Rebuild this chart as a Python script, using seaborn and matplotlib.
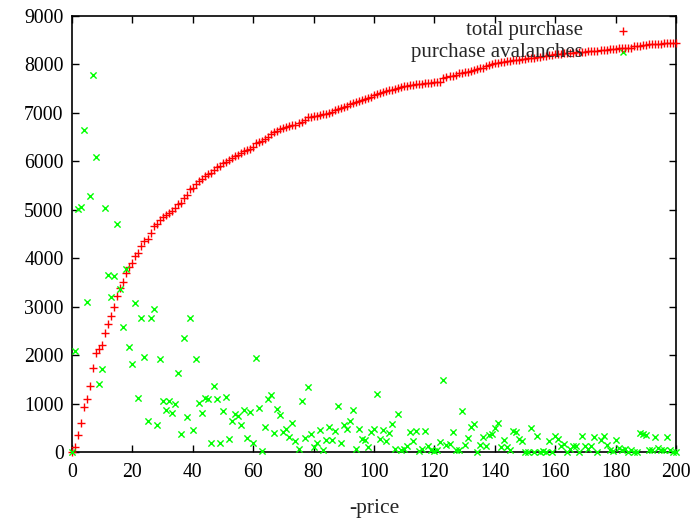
import matplotlib
matplotlib.use("Agg")
import matplotlib.pyplot as plt
import seaborn as sns
import pandas as pd

# ---- data ----
price = list(range(0, 201))

total_purchase = [
    0, 100, 350, 600, 935, 1095, 1355, 1740, 2050, 2120,
    2200, 2455, 2650, 2810, 2985, 3220, 3380, 3515, 3700, 3820,
    3910, 4050, 4110, 4260, 4360, 4390, 4520, 4665, 4700, 4795,
    4860, 4885, 4930, 4975, 5030, 5120, 5140, 5250, 5300, 5425,
    5445, 5540, 5590, 5630, 5690, 5740, 5760, 5820, 5875, 5905,
    5960, 5990, 6030, 6070, 6110, 6140, 6170, 6205, 6230, 6260,
    6300, 6370, 6400, 6430, 6455, 6500, 6560, 6600, 6630, 6660,
    6690, 6710, 6730, 6745, 6760, 6790, 6810, 6850, 6905, 6920,
    6930, 6940, 6955, 6970, 6985, 7005, 7020, 7050, 7075, 7095,
    7120, 7150, 7185, 7210, 7230, 7250, 7270, 7285, 7300, 7320,
    7360, 7400, 7420, 7435, 7450, 7465, 7480, 7500, 7520, 7540,
    7550, 7560, 7570, 7580, 7590, 7598, 7605, 7610, 7615, 7620,
    7628, 7635, 7645, 7720, 7740, 7760, 7768, 7790, 7815, 7830,
    7840, 7850, 7870, 7890, 7905, 7920, 7935, 7960, 7985, 8005,
    8020, 8035, 8045, 8055, 8065, 8075, 8085, 8093, 8100, 8110,
    8118, 8127, 8135, 8142, 8150, 8160, 8170, 8180, 8195, 8205,
    8210, 8215, 8222, 8228, 8233, 8240, 8245, 8250, 8253, 8257,
    8262, 8268, 8275, 8280, 8285, 8292, 8300, 8308, 8315, 8320,
    8326, 8330, 8333, 8336, 8340, 8345, 8375, 8382, 8390, 8398,
    8405, 8412, 8418, 8422, 8427, 8432, 8436, 8440, 8444, 8448,
    8452,
]

purchase_avalanches = [
    0, 2090, 5010, 5050, 6640, 3090, 5280, 7780, 6080, 1395,
    1715, 5030, 3655, 3200, 3635, 4700, 3365, 2575, 3785, 2175,
    1810, 3075, 1115, 2775, 1955, 650, 2775, 2950, 550, 1915,
    1055, 875, 1055, 810, 990, 1630, 370, 2355, 715, 2775,
    455, 1915, 1010, 800, 1115, 1095, 190, 1355, 1095, 190,
    846, 1128, 268, 647, 784, 750, 550, 867, 289, 832,
    186, 1934, 908, 14, 523, 1088, 1170, 385, 888, 771,
    413, 482, 303, 592, 227, 69, 1053, 289, 1335, 372,
    110, 186, 454, 34, 248, 509, 248, 427, 950, 186,
    564, 468, 647, 867, 69, 482, 268, 241, 110, 413,
    468, 1191, 268, 447, 227, 392, 571, 62, 791, 34,
    62, 124, 406, 227, 427, 14, 55, 427, 131, 34,
    14, 34, 213, 1493, 145, 172, 406, 34, 48, 846,
    145, 289, 523, 571, 0, 145, 310, 131, 351, 372,
    489, 592, 110, 248, 110, 34, 427, 406, 268, 227,
    0, 0, 489, 0, 330, 0, 28, 0, 227, 0,
    330, 268, 131, 158, 0, 60, 117, 117, 0, 330,
    117, 55, 117, 310, 0, 248, 330, 145, 41, 20,
    248, 82, 41, 55, 0, 41, 0, 0, 400, 372,
    351, 41, 41, 303, 82, 41, 41, 303, 41, 0,
    0,
]

x_ticks = list(range(0, 201, 20))
y_ticks = list(range(0, 9001, 1000))
series_labels = ["total purchase", "purchase avalanches"]
x_label = "-price"

# ---- style ----
sns.set_style("ticks")
plt.rcParams["font.family"] = ["Liberation Serif", "DejaVu Serif"]
FS_TICK = 14.2
FS_KEY = 15
FS_LABEL = 15.5

W, H = 698, 519
fig = plt.figure(figsize=(W / 100, H / 100), dpi=100)
left, right, top, bottom = 72, 676, 16, 452
ax = fig.add_axes([left / W, 1 - bottom / H, (right - left) / W, (bottom - top) / H])

df = pd.DataFrame({"price": price, "total": total_purchase, "aval": purchase_avalanches})

sns.scatterplot(data=df, x="price", y="total", marker="+", color="#ff0000",
                s=30, linewidth=1.0, ax=ax, legend=False, zorder=3, clip_on=False)
sns.scatterplot(data=df, x="price", y="aval", marker="x", color="#00ff00",
                s=20, linewidth=1.0, ax=ax, legend=False, zorder=3, clip_on=False)

ax.set_xlim(0, 200)
ax.set_ylim(0, 9000)
ax.set_xticks(x_ticks)
ax.set_yticks(y_ticks)
ax.tick_params(direction="in", top=True, right=True, length=5, width=1,
               labelsize=FS_TICK, colors="black")
ax.tick_params(axis="x", pad=8)
ax.tick_params(axis="y", pad=6)
for sp in ax.spines.values():
    sp.set_visible(True)
    sp.set_linewidth(1.2)
    sp.set_color("black")
ax.set_xlabel(x_label, fontsize=FS_LABEL, labelpad=12)
ax.set_ylabel("")

# key (gnuplot style: right-justified text, sample to the right)
key_rows = [(0.9656, "#ff0000", "+", 5.5), (0.9174, "#00ff00", "x", 4.5)]
for (yk, col, mk, ms), lab in zip(key_rows, series_labels):
    ax.text(0.846, yk, lab, transform=ax.transAxes, ha="right", va="center", fontsize=FS_KEY)
    ax.plot([0.912], [yk], transform=ax.transAxes, marker=mk, color=col,
            markersize=ms, mew=1.0, linestyle="none", clip_on=False)

fig.savefig("out.png", dpi=100)
